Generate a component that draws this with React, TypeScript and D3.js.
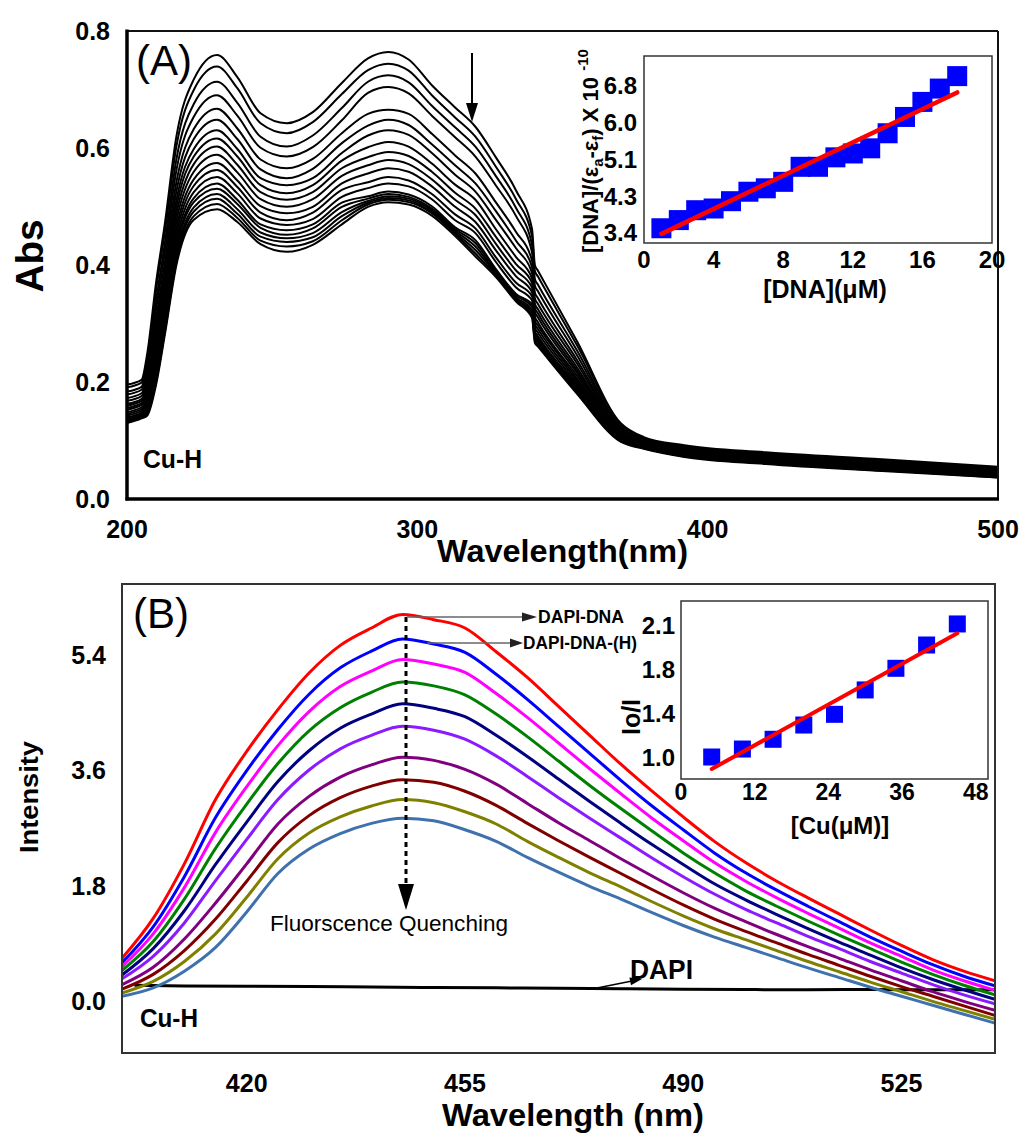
import React from "react";
import * as d3 from "d3";

const FONT = "'Liberation Sans', Arial, Helvetica, sans-serif";

// ---------------- Panel A : absorption titration (19 spectra, top -> bottom) ----------------
const absWavelengths = [200, 205, 207, 210, 213, 217, 223, 231, 238, 246, 255, 264, 274, 283, 290, 297, 305, 313, 320, 327, 334, 339.5, 340.5, 341.5, 355, 370, 378, 392, 420, 460, 500];
const absByWavelength: number[][] = [
  [.196,.191,.184,.179,.173,.168,.163,.160,.156,.153,.149,.146,.143,.140,.138,.136,.134,.132,.130],
  [.204,.199,.192,.187,.181,.176,.171,.168,.164,.161,.157,.154,.151,.148,.146,.144,.142,.140,.138],
  [.250,.242,.231,.222,.212,.204,.197,.191,.185,.180,.174,.169,.164,.159,.156,.152,.149,.146,.143],
  [.370,.357,.339,.324,.308,.295,.283,.274,.264,.255,.245,.237,.229,.222,.217,.210,.205,.200,.195],
  [.470,.455,.436,.420,.403,.389,.376,.365,.355,.345,.335,.326,.317,.309,.303,.297,.291,.285,.280],
  [.620,.603,.581,.562,.542,.526,.511,.499,.487,.475,.463,.453,.443,.434,.427,.419,.413,.406,.400],
  [.718,.700,.676,.654,.633,.616,.599,.586,.573,.560,.547,.536,.525,.515,.508,.499,.492,.484,.478],
  [.760,.740,.714,.691,.668,.649,.631,.617,.603,.589,.575,.563,.551,.540,.531,.522,.514,.505,.496],
  [.722,.703,.678,.656,.634,.616,.599,.586,.572,.559,.545,.534,.523,.512,.505,.496,.488,.481,.474],
  [.660,.643,.620,.601,.581,.564,.549,.537,.525,.513,.501,.490,.480,.470,.464,.456,.449,.442,.436],
  [.643,.626,.603,.586,.566,.549,.537,.523,.512,.500,.489,.477,.469,.460,.452,.446,.440,.432,.423],
  [.662,.645,.622,.602,.582,.565,.549,.537,.525,.513,.500,.490,.479,.470,.463,.455,.448,.441,.435],
  [.712,.693,.669,.648,.626,.609,.592,.579,.566,.553,.540,.529,.517,.507,.500,.491,.484,.477,.470],
  [.754,.734,.714,.695,.659,.639,.622,.602,.585,.571,.557,.542,.532,.518,.514,.510,.507,.504,.500],
  [.765,.745,.725,.705,.666,.649,.631,.611,.594,.580,.566,.551,.540,.526,.522,.518,.515,.512,.508],
  [.752,.733,.713,.694,.659,.640,.623,.603,.587,.573,.560,.545,.535,.521,.517,.514,.511,.508,.504],
  [.708,.691,.673,.656,.625,.607,.592,.574,.560,.547,.535,.522,.513,.501,.497,.494,.491,.489,.485],
  [.670,.653,.636,.619,.588,.571,.555,.538,.524,.512,.500,.487,.477,.465,.462,.459,.456,.454,.450],
  [.637,.620,.603,.586,.557,.540,.526,.512,.497,.486,.474,.463,.455,.443,.438,.432,.426,.420,.415],
  [.585,.569,.553,.537,.508,.493,.478,.462,.449,.437,.426,.414,.406,.394,.391,.388,.386,.383,.380],
  [.528,.513,.498,.484,.457,.442,.429,.414,.402,.391,.381,.370,.362,.351,.348,.345,.343,.341,.338],
  [.462,.450,.435,.422,.408,.397,.387,.378,.370,.362,.354,.347,.340,.333,.329,.323,.319,.314,.310],
  [.400,.390,.376,.365,.353,.343,.334,.327,.320,.312,.305,.299,.293,.287,.283,.279,.275,.271,.267],
  [.391,.381,.367,.356,.344,.334,.325,.318,.311,.303,.297,.291,.285,.279,.275,.271,.268,.264,.261],
  [.270,.263,.254,.246,.238,.232,.225,.220,.216,.211,.206,.202,.198,.194,.191,.188,.185,.182,.180],
  [.130,.128,.124,.122,.119,.116,.114,.112,.111,.109,.107,.106,.104,.103,.102,.101,.100,.099,.098],
  [.106,.104,.102,.101,.099,.097,.096,.095,.094,.093,.092,.091,.090,.089,.088,.088,.087,.087,.086],
  [.092,.090,.088,.087,.085,.083,.082,.081,.080,.079,.078,.077,.076,.075,.074,.074,.073,.073,.072],
  [.080,.078,.076,.075,.073,.071,.070,.069,.068,.067,.066,.065,.064,.063,.062,.062,.061,.061,.060],
  [.068,.066,.064,.063,.061,.059,.058,.057,.056,.055,.054,.053,.052,.051,.050,.050,.049,.049,.048],
  [.055,.054,.052,.050,.049,.047,.046,.045,.044,.043,.042,.041,.041,.040,.039,.039,.038,.037,.037],
];
const absTicksX = [200, 300, 400, 500];
const absTicksY = [0.0, 0.2, 0.4, 0.6, 0.8];

// ---------------- Inset A ----------------
const dnaConc = [1, 2, 3, 4, 5, 6, 7, 8, 9, 10, 11, 12, 13, 14, 15, 16, 17, 18];
const dnaRatio = [3.53, 3.72, 3.95, 3.99, 4.16, 4.38, 4.46, 4.61, 4.96, 4.96, 5.18, 5.27, 5.39, 5.74, 6.12, 6.47, 6.78, 7.07];
const dnaFitConc = [1, 18];
const dnaFitRatio = [3.40, 6.69];
const dnaTicksX = [0, 4, 8, 12, 16, 20];
const dnaTicksY = [3.42, 4.275, 5.13, 5.985, 6.84];

// ---------------- Panel B : fluorescence quenching ----------------
const flWavelengths = [400, 405, 410, 415, 420, 425, 430, 435, 440, 445, 450, 455, 460, 465, 470, 475, 480, 485, 490, 495, 500, 505, 510, 515, 520, 525, 530, 535, 540];
const flRed = [.68, 1.30, 2.15, 3.15, 3.90, 4.55, 5.12, 5.55, 5.82, 6.03, 5.95, 5.82, 5.45, 5.05, 4.60, 4.15, 3.70, 3.28, 2.88, 2.50, 2.17, 1.88, 1.62, 1.37, 1.12, .88, .66, .48, .33];
const flBlue = [.61, 1.17, 1.95, 2.87, 3.60, 4.24, 4.79, 5.20, 5.46, 5.65, 5.57, 5.44, 5.10, 4.71, 4.29, 3.87, 3.45, 3.05, 2.68, 2.32, 2.01, 1.74, 1.49, 1.25, 1.01, .79, .58, .40, .25];
const flMagenta = [.55, 1.06, 1.78, 2.64, 3.35, 3.99, 4.52, 4.91, 5.15, 5.33, 5.26, 5.13, 4.80, 4.43, 4.03, 3.63, 3.24, 2.86, 2.51, 2.17, 1.88, 1.62, 1.38, 1.15, .92, .71, .50, .33, .18];
const flGreen = [.49, .94, 1.60, 2.39, 3.08, 3.71, 4.22, 4.58, 4.82, 4.98, 4.92, 4.78, 4.48, 4.13, 3.75, 3.37, 3.01, 2.66, 2.32, 2.01, 1.73, 1.49, 1.26, 1.04, .83, .62, .43, .26, .11];
const flNavy = [.42, .83, 1.42, 2.14, 2.80, 3.43, 3.91, 4.26, 4.48, 4.64, 4.57, 4.44, 4.15, 3.82, 3.47, 3.12, 2.78, 2.45, 2.14, 1.84, 1.59, 1.36, 1.14, .93, .73, .53, .35, .19, .04];
const flViolet = [.36, .71, 1.23, 1.89, 2.53, 3.15, 3.61, 3.94, 4.15, 4.29, 4.23, 4.09, 3.83, 3.51, 3.18, 2.86, 2.55, 2.24, 1.95, 1.68, 1.44, 1.23, 1.02, .83, .63, .45, .27, .11, -.03];
const flPurple = [.27, .54, .98, 1.54, 2.15, 2.77, 3.20, 3.50, 3.69, 3.81, 3.76, 3.62, 3.39, 3.09, 2.79, 2.51, 2.23, 1.96, 1.70, 1.46, 1.25, 1.05, .86, .68, .50, .33, .16, .01, -.13];
const flDarkRed = [.20, .43, .80, 1.29, 1.88, 2.48, 2.90, 3.18, 3.36, 3.46, 3.42, 3.28, 3.06, 2.78, 2.51, 2.25, 2.00, 1.75, 1.51, 1.29, 1.10, .92, .74, .57, .40, .24, .09, -.06, -.21];
const flOlive = [.14, .32, .63, 1.06, 1.63, 2.23, 2.63, 2.88, 3.05, 3.15, 3.10, 2.96, 2.77, 2.50, 2.25, 2.01, 1.79, 1.56, 1.34, 1.14, .97, .80, .63, .47, .31, .16, .01, -.13, -.27];
const flSteel = [.09, .22, .48, .85, 1.40, 2.00, 2.38, 2.62, 2.78, 2.86, 2.82, 2.68, 2.50, 2.25, 2.02, 1.80, 1.60, 1.39, 1.19, 1.01, .85, .69, .53, .38, .23, .09, -.05, -.19, -.33];
const flColors = ["#ff0000", "#0000ff", "#ff00ff", "#008000", "#000080", "#8c1aff", "#800080", "#800000", "#808000", "#3f72ad"];
const dapiWavelengths = [402, 410, 420, 430, 440, 450, 460, 470, 480, 490, 500, 510, 520, 530, 540];
const dapiValues = [.26, .25, .245, .24, .232, .225, .22, .212, .205, .198, .193, .19, .195, .19, .19];
const flTicksX = [420, 455, 490, 525];
const flTicksY = [0.0, 1.8, 3.6, 5.4];

// ---------------- Inset B ----------------
const cuConc = [5, 10, 15, 20, 25, 30, 35, 40, 45];
const ioRatio = [1.03, 1.097, 1.179, 1.299, 1.389, 1.594, 1.776, 1.972, 2.149];
const cuFitConc = [5, 45];
const cuFitRatio = [0.929, 2.07];
const cuTicksX = [0, 12, 24, 36, 48];
const cuTicksY = [1.03, 1.40, 1.77, 2.14];

export default function App() {
  // scales
  const ax = d3.scaleLinear().domain([200, 500]).range([127, 998]);
  const ay = d3.scaleLinear().domain([0, 0.8]).range([499, 31.5]);
  const ix = d3.scaleLinear().domain([0, 20]).range([644, 992]);
  const iy = d3.scaleLinear().domain([3.187, 7.538]).range([243, 56]);
  const bx = d3.scaleLinear().domain([400, 540]).range([122, 995]);
  const by = d3.scaleLinear().domain([-0.794, 6.505]).range([1053, 584]);
  const cx = d3.scaleLinear().domain([0, 50]).range([681, 988]);
  const cy = d3.scaleLinear().domain([0.845, 2.342]).range([779, 601]);

  const absSeries = absByWavelength[0].map((_, i) =>
    absWavelengths.map((w, k) => [w, absByWavelength[k][i]] as [number, number])
  );
  const absLine = d3.line<[number, number]>().x(d => ax(d[0])).y(d => ay(d[1])).curve(d3.curveMonotoneX);

  const flSeries = [flRed, flBlue, flMagenta, flGreen, flNavy, flViolet, flPurple, flDarkRed, flOlive, flSteel];
  const flLine = d3.line<number>().x((_, k) => bx(flWavelengths[k])).y(d => by(d)).curve(d3.curveMonotoneX);
  const dapiLine = d3.line<number>().x((_, k) => bx(dapiWavelengths[k])).y(d => by(d)).curve(d3.curveMonotoneX);

  const fmt1 = d3.format(".1f");

  return (
    <svg width={1025} height={1139} style={{ position: "absolute", left: 0, top: 0 }} fontFamily={FONT}>
      <rect width={1025} height={1139} fill="#fff" />
      <defs>
        <clipPath id="clipA"><rect x={127} y={31} width={871} height={468} /></clipPath>
        <clipPath id="clipB"><rect x={122} y={584} width={873} height={469} /></clipPath>
      </defs>

      {/* ================= Panel A ================= */}
      <g clipPath="url(#clipA)">
        {absSeries.map((s, i) => (
          <path key={i} d={absLine(s) || ""} fill="none" stroke="#000" strokeWidth={2} strokeLinejoin="round" />
        ))}
      </g>
      <line x1={127} y1={31} x2={998} y2={31} stroke="#111" strokeWidth={2} />
      <line x1={998} y1={31} x2={998} y2={499} stroke="#111" strokeWidth={2} />
      <line x1={127} y1={29.5} x2={127} y2={500.5} stroke="#000" strokeWidth={3.5} />
      <line x1={125.5} y1={499} x2={999} y2={499} stroke="#000" strokeWidth={3.5} />
      {absTicksY.map(t => (
        <text key={t} x={110} y={ay(t) + 8.5} textAnchor="end" fontSize={25} fontWeight="bold">{fmt1(t)}</text>
      ))}
      {absTicksX.map(t => (
        <text key={t} x={ax(t)} y={538} textAnchor="middle" fontSize={25} fontWeight="bold">{t}</text>
      ))}
      <text x={437} y={562} fontSize={32} fontWeight="bold" textLength={251} lengthAdjust="spacingAndGlyphs">Wavelength(nm)</text>
      <text transform="translate(43,256) rotate(-90)" textAnchor="middle" fontSize={38} fontWeight="bold" textLength={73} lengthAdjust="spacingAndGlyphs">Abs</text>
      <text x={136} y={75} fontSize={42}>(A)</text>
      <text x={143} y={468} fontSize={25} fontWeight="bold" textLength={59} lengthAdjust="spacingAndGlyphs">Cu-H</text>
      <line x1={472} y1={53} x2={472} y2={106} stroke="#000" strokeWidth={2} />
      <path d="M466,103 L478,103 L472,122 Z" fill="#000" />

      {/* ---- Inset A ---- */}
      <rect x={644} y={56} width={348} height={187} fill="#fff" stroke="#333" strokeWidth={1.5} />
      {dnaConc.map((c, i) => (
        <rect key={i} x={ix(c) - 10} y={iy(dnaRatio[i]) - 10} width={20} height={20} fill="#0000ff" />
      ))}
      <line x1={ix(dnaFitConc[0])} y1={iy(dnaFitRatio[0])} x2={ix(dnaFitConc[1])} y2={iy(dnaFitRatio[1])} stroke="#ff0000" strokeWidth={4.5} strokeLinecap="round" />
      {dnaTicksY.map(t => (
        <text key={t} x={637} y={iy(t) + 8.5} textAnchor="end" fontSize={24} fontWeight="bold">{fmt1(t)}</text>
      ))}
      {dnaTicksX.map(t => (
        <text key={t} x={ix(t)} y={268} textAnchor="middle" fontSize={24} fontWeight="bold">{t}</text>
      ))}
      <text x={825} y={298} textAnchor="middle" fontSize={25} fontWeight="bold">[DNA](μM)</text>
      <text transform="translate(598,253) rotate(-90)" fontSize={22} fontWeight="bold">
        [DNA]/(ε<tspan fontSize={15} dy={5}>a</tspan><tspan dy={-5}>-ε</tspan><tspan fontSize={15} dy={5}>f</tspan><tspan dy={-5}>) X 10 </tspan><tspan fontSize={15} dy={-10}>-10</tspan>
      </text>

      {/* ================= Panel B ================= */}
      <g clipPath="url(#clipB)">
        <path d={dapiLine(dapiValues) || ""} fill="none" stroke="#000" strokeWidth={3} />
        {flSeries.map((s, i) => (
          <path key={i} d={flLine(s) || ""} fill="none" stroke={flColors[i]} strokeWidth={3} strokeLinejoin="round" />
        ))}
      </g>
      <rect x={122} y={584} width={873} height={469} fill="none" stroke="#333" strokeWidth={2} />
      {flTicksY.map(t => (
        <text key={t} x={106} y={by(t) + 8.5} textAnchor="end" fontSize={25} fontWeight="bold">{fmt1(t)}</text>
      ))}
      {flTicksX.map(t => (
        <text key={t} x={bx(t)} y={1092} textAnchor="middle" fontSize={25} fontWeight="bold">{t}</text>
      ))}
      <text x={442} y={1126} fontSize={32} fontWeight="bold" textLength={262} lengthAdjust="spacingAndGlyphs">Wavelength (nm)</text>
      <text transform="translate(38,797) rotate(-90)" textAnchor="middle" fontSize={25} fontWeight="bold" textLength={112} lengthAdjust="spacingAndGlyphs">Intensity</text>
      <text x={133} y={628} fontSize={42}>(B)</text>
      <text x={140} y={1027} fontSize={25} fontWeight="bold" textLength={58} lengthAdjust="spacingAndGlyphs">Cu-H</text>

      {/* quenching arrow */}
      <line x1={406} y1={617} x2={406} y2={885} stroke="#000" strokeWidth={3} strokeDasharray="5 4" />
      <path d="M398,884 L414,884 L406,910 Z" fill="#000" />
      <text x={270} y={931} fontSize={22} textLength={238} lengthAdjust="spacingAndGlyphs">Fluorscence Quenching</text>

      {/* legend arrows */}
      <line x1={407} y1={617} x2={524} y2={617} stroke="#666" strokeWidth={1.5} />
      <path d="M537,617 L522,612.5 L522,621.5 Z" fill="#222" />
      <text x={538} y={623} fontSize={19} fontWeight="bold" textLength={86} lengthAdjust="spacingAndGlyphs">DAPI-DNA</text>
      <line x1={427} y1={643} x2={512} y2={643} stroke="#666" strokeWidth={1.5} />
      <path d="M523,643 L510,638.5 L510,647.5 Z" fill="#222" />
      <text x={523} y={649} fontSize={19} fontWeight="bold" textLength={114} lengthAdjust="spacingAndGlyphs">DAPI-DNA-(H)</text>

      {/* DAPI label */}
      <line x1={597} y1={988} x2={632} y2={981} stroke="#000" strokeWidth={1.5} />
      <path d="M642,979 L629.4,977.5 L631,985.3 Z" fill="#000" />
      <text x={630} y={979} fontSize={27} fontWeight="bold" textLength={63} lengthAdjust="spacingAndGlyphs">DAPI</text>

      {/* ---- Inset B ---- */}
      <rect x={681} y={601} width={307} height={178} fill="#fff" stroke="#333" strokeWidth={1.5} />
      {cuConc.map((c, i) => (
        <rect key={i} x={cx(c) - 8.5} y={cy(ioRatio[i]) - 8.5} width={17} height={17} fill="#0000ff" />
      ))}
      <line x1={cx(cuFitConc[0])} y1={cy(cuFitRatio[0])} x2={cx(cuFitConc[1])} y2={cy(cuFitRatio[1])} stroke="#ff0000" strokeWidth={4} strokeLinecap="round" />
      {cuTicksY.map(t => (
        <text key={t} x={675} y={cy(t) + 9} textAnchor="end" fontSize={24} fontWeight="bold">{fmt1(t)}</text>
      ))}
      {cuTicksX.map(t => (
        <text key={t} x={cx(t)} y={800} textAnchor="middle" fontSize={23} fontWeight="bold">{t}</text>
      ))}
      <text x={840} y={834} textAnchor="middle" fontSize={24} fontWeight="bold">[Cu(μM)]</text>
      <text transform="translate(640,717) rotate(-90)" textAnchor="middle" fontSize={25} fontWeight="bold">Io/I</text>
    </svg>
  );
}
